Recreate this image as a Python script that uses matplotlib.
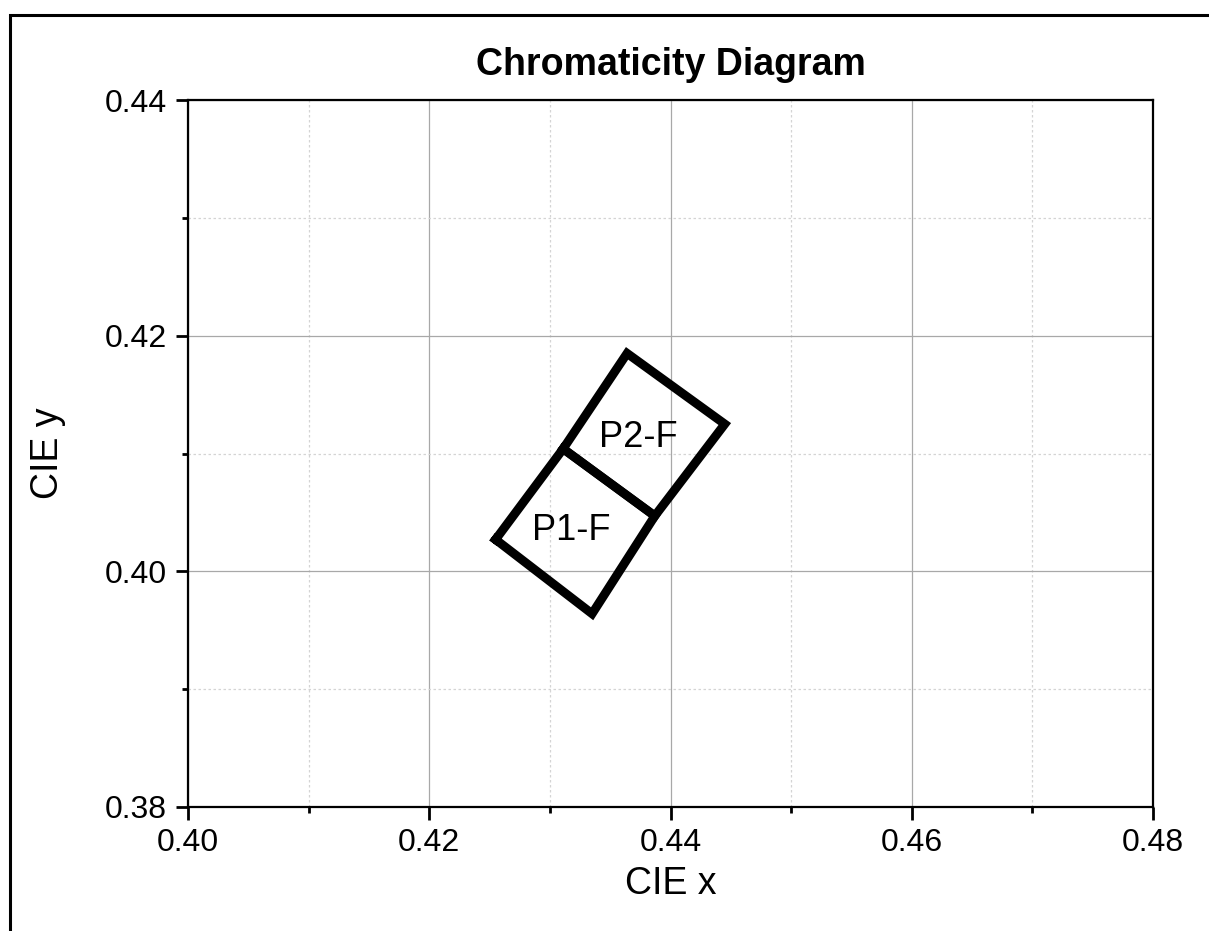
import numpy as np
import matplotlib.pyplot as plt
from matplotlib.patches import Rectangle
from matplotlib.ticker import MultipleLocator

plt.rcParams['font.family'] = ['Liberation Sans', 'DejaVu Sans']

# Datos: vertices de las regiones (CIE x, CIE y)
p1_x = [0.4255, 0.4335, 0.4387, 0.4311, 0.4255]
p1_y = [0.4027, 0.3964, 0.4047, 0.4104, 0.4027]
p2_x = [0.4311, 0.4387, 0.4445, 0.4364, 0.4311]
p2_y = [0.4104, 0.4047, 0.4125, 0.4185, 0.4104]
labels = ['P1-F', 'P2-F']
label_x = [0.4318, 0.4373]
label_y = [0.4035, 0.4114]

fig = plt.figure(figsize=(12.09, 9.31), dpi=100)

# Marco de la figura
fig.patches.append(Rectangle((10 / 1209, -0.2), 2, (916 / 931) + 0.2,
                             transform=fig.transFigure, fill=False,
                             edgecolor='black', linewidth=2.2))

ax = fig.add_axes([188 / 1209, 124 / 931, 965 / 1209, 707 / 931])

ax.plot(p1_x, p1_y, color='black', linewidth=6.4, solid_joinstyle='miter', zorder=3)
ax.plot(p2_x, p2_y, color='black', linewidth=6.4, solid_joinstyle='miter', zorder=3)
for t, lx, ly in zip(labels, label_x, label_y):
    ax.text(lx, ly, t, fontsize=26, ha='center', va='center', zorder=4)

ax.set_xlim(0.40, 0.48)
ax.set_ylim(0.38, 0.44)
ax.xaxis.set_major_locator(MultipleLocator(0.02))
ax.xaxis.set_minor_locator(MultipleLocator(0.01))
ax.yaxis.set_major_locator(MultipleLocator(0.02))
ax.yaxis.set_minor_locator(MultipleLocator(0.01))
ax.xaxis.set_major_formatter(lambda v, p: f'{v:.2f}')
ax.yaxis.set_major_formatter(lambda v, p: f'{v:.2f}')

# Rejilla
ax.grid(which='major', color='#a8a8a8', linewidth=0.9, linestyle='-')
ax.grid(which='minor', color='#d4d4d4', linewidth=0.9, linestyle=(0, (2, 2)))
ax.set_axisbelow(True)

# Estilo
for s in ax.spines.values():
    s.set_linewidth(1.6)
ax.tick_params(which='major', direction='out', length=9, width=2,
               labelsize=23, pad=6, top=False, right=False)
ax.tick_params(which='minor', direction='out', length=4.5, width=2,
               top=False, right=False)

ax.set_title('Chromaticity Diagram', fontsize=27, fontweight='bold', pad=18)
ax.set_xlabel('CIE x', fontsize=27, labelpad=6)
ax.set_ylabel('CIE y', fontsize=27, labelpad=28)

fig.savefig('out.png', dpi=100)
